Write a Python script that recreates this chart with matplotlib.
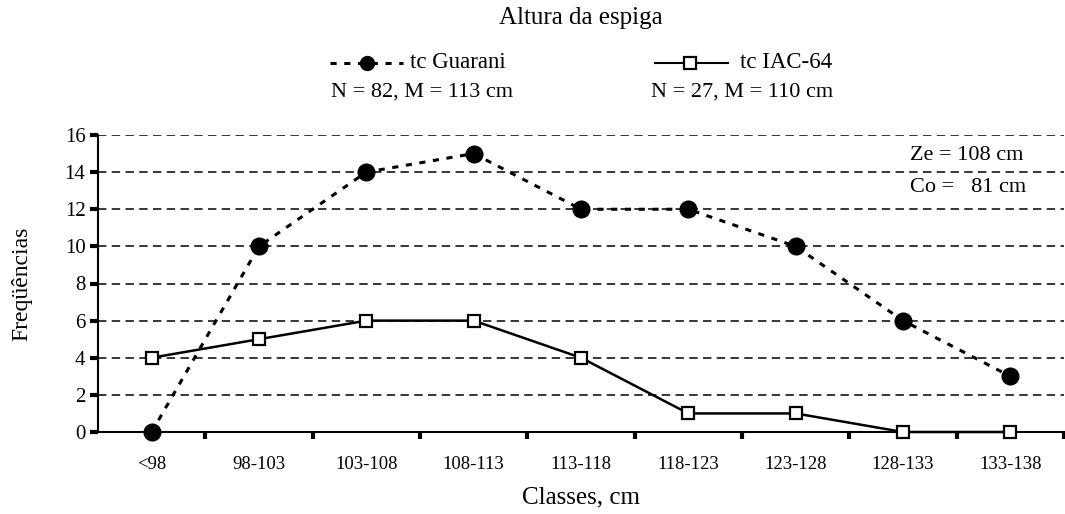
import matplotlib
matplotlib.use("Agg")
import matplotlib.pyplot as plt
from matplotlib.lines import Line2D

categories = ["<98", "98-103", "103-108", "108-113", "113-118", "118-123", "123-128", "128-133", "133-138"]
guarani = [0, 10, 14, 15, 12, 12, 10, 6, 3]
iac64 = [4, 5, 6, 6, 4, 1, 1, 0, 0]
yticks = [0, 2, 4, 6, 8, 10, 12, 14, 16]

plt.rcParams['font.family'] = ['Liberation Serif', 'DejaVu Serif']

W, H = 1065, 514
fig = plt.figure(figsize=(W / 100, H / 100), dpi=100)
ax = fig.add_axes([98/W, 1-432/H, (1064-98)/W, (432-135)/H])

x = list(range(len(categories)))
ax.set_xlim(-0.5, len(categories) - 0.5)
ax.set_ylim(0, 16)

for yv in yticks[1:]:
    ax.axhline(yv, color='black', lw=1.1, ls=(0, (5.5, 3.5)), zorder=1)

ax.plot(x, guarani, color='black', lw=2.2, ls=(0, (2, 2.5)), marker='o', ms=12,
        mfc='black', mec='black', clip_on=False, zorder=3)
ax.plot(x, iac64, color='black', lw=1.8, ls='-', marker='s', ms=9,
        mfc='white', mec='black', mew=1.6, clip_on=False, zorder=4)

ax.spines['top'].set_visible(False)
ax.spines['right'].set_visible(False)
ax.spines['left'].set_linewidth(1.5)
ax.spines['bottom'].set_linewidth(1.5)

ax.set_yticks(yticks)
ax.set_yticklabels([str(v) for v in yticks], fontsize=15)
ax.set_xticks(x)
ax.set_xticklabels(categories, fontsize=13.5)
ax.tick_params(axis='x', which='major', length=0, pad=17)
ax.set_xticks([i + 0.5 for i in x], minor=True)
ax.tick_params(axis='x', which='minor', length=5, width=3, direction='out')
ax.tick_params(axis='y', which='major', length=6, width=3, direction='out', pad=3)

ax.set_ylabel("Freqüências", fontsize=17)
ax.yaxis.set_label_coords(-(98 - 22) / (1064 - 98), 0.5)
ax.set_xlabel("Classes, cm", fontsize=18)
ax.xaxis.set_label_coords(0.5, -(497 - 432) / (432 - 135))
ax.xaxis.label.set_va('center')
ax.yaxis.label.set_va('center')

fig.text(581/W, 1-18/H, "Altura da espiga", fontsize=18, ha='center', va='center')

def legend_sample(x0, x1, y, **kw):
    fig.add_artist(Line2D([x0/W, x1/W], [1-y/H, 1-y/H], transform=fig.transFigure, color='black', **kw))

legend_sample(330, 403, 63, lw=2.2, ls=(0, (2, 2.5)))
fig.add_artist(Line2D([367/W], [1-63/H], transform=fig.transFigure, marker='o', ms=10,
                      mfc='black', mec='black', ls='none'))
fig.text(410/W, 1-63/H, "tc Guarani", fontsize=16.5, ha='left', va='center')
fig.text(422/W, 1-92/H, "N = 82, M = 113 cm", fontsize=16, ha='center', va='center')

legend_sample(655, 728, 63, lw=1.5, ls='-')
fig.add_artist(Line2D([690/W], [1-63/H], transform=fig.transFigure, marker='s', ms=8,
                      mfc='white', mec='black', mew=1.6, ls='none'))
fig.text(740/W, 1-63/H, "tc IAC-64", fontsize=16.5, ha='left', va='center')
fig.text(742/W, 1-92/H, "N = 27, M = 110 cm", fontsize=16, ha='center', va='center')

fig.text(910/W, 1-155/H, "Ze = 108 cm", fontsize=16, ha='left', va='center')
fig.text(910/W, 1-188/H, "Co =   81 cm", fontsize=16, ha='left', va='center')

fig.savefig("out.png", dpi=100)
